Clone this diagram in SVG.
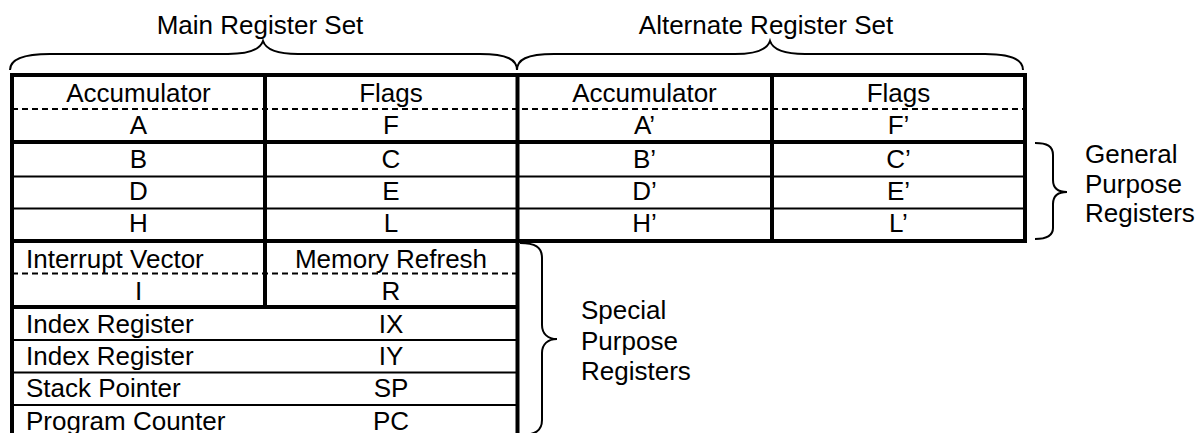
<svg xmlns="http://www.w3.org/2000/svg" width="1200" height="433" viewBox="0 0 1200 433">
<style>
text{font-family:"Liberation Sans",Arial,sans-serif;font-size:26px;fill:#000}
.c{text-anchor:middle}
.thick{stroke:#000;stroke-width:4;fill:none}
.thin{stroke:#000;stroke-width:2;fill:none}
.dash{stroke:#000;stroke-width:2;stroke-dasharray:6 4;fill:none}
.brace{stroke:#000;stroke-width:2;fill:none}
</style>
<rect width="1200" height="433" fill="#fff"/>
<g id="titles">
<text class="c" x="260" y="34">Main Register Set</text>
<text class="c" x="766" y="34">Alternate Register Set</text>
</g>
<g id="braces">
<path class="brace" d="M10 70 C10 60,22 54,50 54 L228 54 C248 54,260 50,263 41 C266 50,278 54,298 54 L480 54 C508 54,517 60,517 70"/>
<path class="brace" d="M517 70 C517 60,526 54,554 54 L735 54 C755 54,767 50,770 41 C773 50,785 54,805 54 L985 54 C1013 54,1023 60,1023 70"/>
<path class="brace" d="M1035 143 C1047 143,1053 146,1053 155 L1053 180 C1053 188,1058 192,1067 192 C1058 192,1053 196,1053 204 L1053 228 C1053 236,1047 239,1035 239"/>
<path class="brace" d="M520 243 C535 243,542 247,542 258 L542 325 C542 334,548 339,557 339 C548 339,542 344,542 353 L542 420 C542 431,535 435,520 435"/>
</g>
<g id="general-labels">
<text x="1085" y="163">General</text>
<text x="1085" y="193">Purpose</text>
<text x="1085" y="222">Registers</text>
</g>
<g id="special-labels">
<text x="581" y="319">Special</text>
<text x="581" y="350">Purpose</text>
<text x="581" y="380">Registers</text>
</g>
<g id="main-set">
<path class="dash" d="M12 109 H1025"/>
<path class="thin" d="M12 176.5 H1025 M12 208.5 H1025"/>
<path class="thick" d="M10 75 H1027 M12 142 H1025 M12 241 H1025"/>
<path class="thick" d="M12 73 V433 M265 73 V307 M517.5 73 V433 M772 73 V241 M1025 73 V243"/>
<text class="c" x="138.5" y="102">Accumulator</text>
<text class="c" x="391" y="102">Flags</text>
<text class="c" x="138.5" y="134">A</text>
<text class="c" x="391" y="134">F</text>
<text class="c" x="138.5" y="168">B</text>
<text class="c" x="391" y="168">C</text>
<text class="c" x="138.5" y="200">D</text>
<text class="c" x="391" y="200">E</text>
<text class="c" x="138.5" y="232">H</text>
<text class="c" x="391" y="232">L</text>
</g>
<g id="alternate-set">
<text class="c" x="644.5" y="102">Accumulator</text>
<text class="c" x="898.5" y="102">Flags</text>
<text class="c" x="644.5" y="134">A’</text>
<text class="c" x="898.5" y="134">F’</text>
<text class="c" x="644.5" y="168">B’</text>
<text class="c" x="898.5" y="168">C’</text>
<text class="c" x="644.5" y="200">D’</text>
<text class="c" x="898.5" y="200">E’</text>
<text class="c" x="644.5" y="232">H’</text>
<text class="c" x="898.5" y="232">L’</text>
</g>
<g id="special-set">
<path class="dash" d="M12 273.5 H517"/>
<path class="thick" d="M12 307 H517"/>
<path class="thin" d="M12 340 H517 M12 372.5 H517 M12 405 H517"/>
<text x="26" y="268">Interrupt Vector</text>
<text class="c" x="391" y="268">Memory Refresh</text>
<text class="c" x="138.5" y="300">I</text>
<text class="c" x="391" y="300">R</text>
<text x="26" y="333">Index Register</text>
<text class="c" x="391" y="333">IX</text>
<text x="26" y="365">Index Register</text>
<text class="c" x="391" y="365">IY</text>
<text x="26" y="397">Stack Pointer</text>
<text class="c" x="391" y="397">SP</text>
<text x="26" y="430">Program Counter</text>
<text class="c" x="391" y="430">PC</text>
</g>
</svg>
